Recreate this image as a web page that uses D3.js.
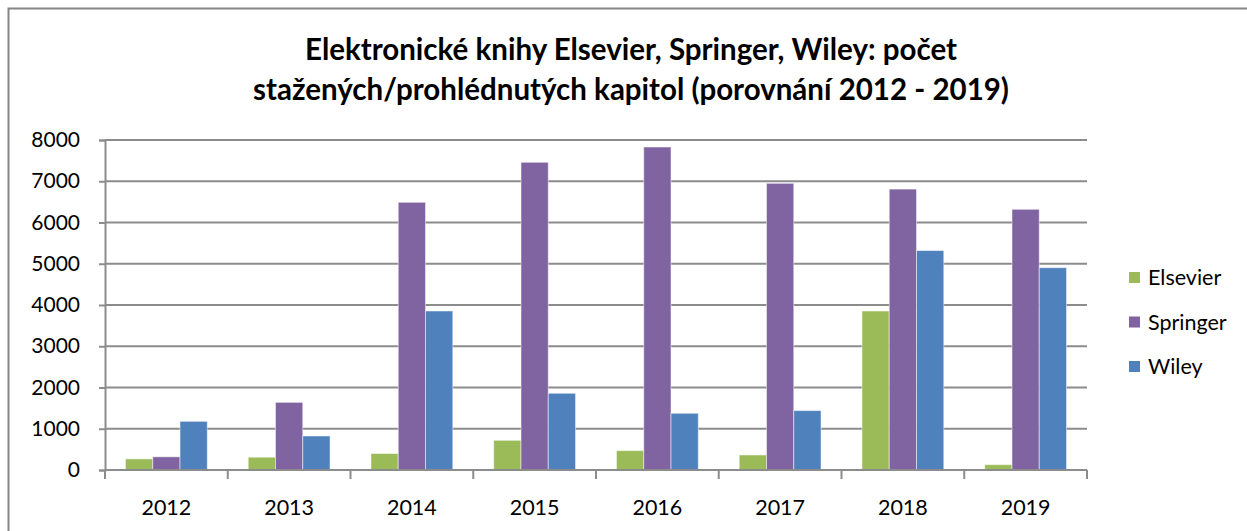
<!DOCTYPE html>
<html>
<head>
<meta charset="utf-8">
<script src="https://cdn.jsdelivr.net/npm/d3@7"></script>
<style>
  body { margin: 0; background: #fff; }
  text { font-family: Lato, "Open Sans", sans-serif; }
</style>
</head>
<body>
<svg id="chart" width="1247" height="531"></svg>
<script>
// values
const years = ['2012', '2013', '2014', '2015', '2016', '2017', '2018', '2019'];
const seriesNames = ['Elsevier', 'Springer', 'Wiley'];
const elsevier = [270, 310, 400, 720, 470, 365, 3855, 130];
const springer = [320, 1640, 6490, 7460, 7830, 6950, 6810, 6320];
const wiley = [1180, 825, 3855, 1860, 1375, 1440, 5320, 4905];
const yTicks = [0, 1000, 2000, 3000, 4000, 5000, 6000, 7000, 8000];
const titleLines = ['Elektronické knihy Elsevier, Springer, Wiley: počet',
                    'stažených/prohlédnutých kapitol (porovnání 2012 - 2019)'];
const colors = ['#9bbb59', '#8064a2', '#4f81bd'];

const data = years.map((y, i) => ({year: y, values: [elsevier[i], springer[i], wiley[i]]}));

const svg = d3.select('#chart');
const plotLeft = 105, plotRight = 1087, plotTop = 140, plotBottom = 470;

// outer frame
svg.append('rect')
    .attr('x', 8.5).attr('y', 8.5)
    .attr('width', 1260).attr('height', 560)
    .attr('fill', 'none')
    .attr('stroke', '#868686')
    .attr('stroke-width', 2);

// title
svg.append('g').selectAll('text')
    .data(titleLines)
    .enter()
        .append('text')
        .attr('x', 631)
        .attr('y', (d, i) => 60 + i * 40)
        .attr('text-anchor', 'middle')
        .style('font-size', '29.5px')
        .style('font-weight', 'bold')
        .style('fill', '#000')
        .text(d => d);

let x0 = d3.scaleBand().domain(years).range([plotLeft, plotRight]);
let x1 = d3.scaleBand().domain(seriesNames)
    .range([0, x0.bandwidth()])
    .paddingInner(0).paddingOuter(0.75);
let y = d3.scaleLinear().domain([0, 8000]).range([plotBottom, plotTop]);

let chart = svg.append('g');

// gridlines
chart.append('g').selectAll('line')
    .data(yTicks)
    .enter()
        .append('line')
        .attr('x1', plotLeft).attr('x2', plotRight)
        .attr('y1', d => y(d)).attr('y2', d => y(d))
        .attr('stroke', '#8c8c8c')
        .attr('stroke-width', 2);

// y axis
let yAxis = d3.axisLeft(y).tickValues(yTicks).tickFormat(d3.format('d'))
    .tickSize(6).tickPadding(19);
let yG = chart.append('g')
    .attr('transform', `translate(${plotLeft}, 0)`)
    .call(yAxis);
yG.select('.domain').attr('stroke', '#8c8c8c').attr('stroke-width', 2);
yG.selectAll('.tick line').attr('stroke', '#8c8c8c').attr('stroke-width', 2);
yG.selectAll('.tick text').style('font-size', '21px').style('fill', '#000')
    .style('font-family', 'Lato, sans-serif');

// bars
let groups = chart.append('g').selectAll('g')
    .data(data)
    .enter()
        .append('g')
        .attr('transform', d => `translate(${x0(d.year)}, 0)`);

groups.selectAll('rect')
    .data(d => d.values.map((v, i) => ({name: seriesNames[i], value: v, i: i})))
    .enter()
        .append('rect')
        .attr('x', d => x1(d.name))
        .attr('width', x1.bandwidth())
        .attr('y', d => y(d.value))
        .attr('height', d => y(0) - y(d.value))
        .attr('fill', d => colors[d.i])
        .attr('stroke', 'rgba(255,255,255,0.5)')
        .attr('stroke-width', 1);

// x axis with ticks on category boundaries
chart.append('line')
    .attr('x1', plotLeft).attr('x2', plotRight)
    .attr('y1', plotBottom).attr('y2', plotBottom)
    .attr('stroke', '#8c8c8c').attr('stroke-width', 2);

chart.append('g').selectAll('line')
    .data(years.concat(['end']))
    .enter()
        .append('line')
        .attr('x1', (d, i) => i < years.length ? x0(d) : plotRight)
        .attr('x2', (d, i) => i < years.length ? x0(d) : plotRight)
        .attr('y1', plotBottom).attr('y2', plotBottom + 9)
        .attr('stroke', '#8c8c8c').attr('stroke-width', 2);

chart.append('g').selectAll('text')
    .data(years)
    .enter()
        .append('text')
        .attr('x', d => x0(d) + x0.bandwidth() / 2)
        .attr('y', 515)
        .attr('text-anchor', 'middle')
        .style('font-size', '21.5px')
        .style('fill', '#000')
        .text(d => d);

// legend
let legend = svg.append('g').attr('transform', 'translate(1129, 272)');
let items = legend.selectAll('g')
    .data(seriesNames)
    .enter()
        .append('g')
        .attr('transform', (d, i) => `translate(0, ${i * 44.5})`);

items.append('rect')
    .attr('width', 11).attr('height', 11)
    .attr('fill', (d, i) => colors[i]);

items.append('text')
    .attr('x', 19)
    .attr('y', 13)
    .style('font-size', '21.5px')
    .style('fill', '#000')
    .text(d => d);
</script>
</body>
</html>
